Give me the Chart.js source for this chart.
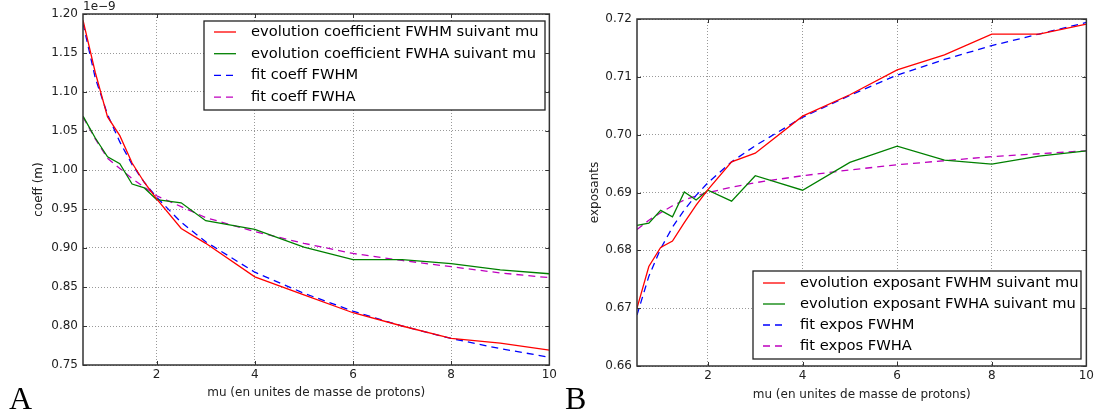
<!DOCTYPE html>
<html>
<head>
<meta charset="utf-8">
<script src="https://cdn.jsdelivr.net/npm/chart.js@4.4.1/dist/chart.umd.min.js"></script>
<style>
body { margin: 0; background: #fff; width: 1097px; height: 418px; overflow: hidden; position: relative; }
.box { position: absolute; top: 0; height: 418px; }
#left-box { left: 0; width: 560px; }
#right-box { left: 560px; width: 537px; }
.panel { position: absolute; top: 382px; font-family: "Liberation Serif"; font-size: 32px; line-height: 1; color: #000; }
</style>
</head>
<body>
<div class="box" id="left-box"><canvas id="left"></canvas></div>
<div class="box" id="right-box"><canvas id="right"></canvas></div>
<div class="panel" style="left:9px">A</div>
<div class="panel" style="left:565px">B</div>
<script>
// mu values (en unites de masse de protons), shared by every curve
const mu = [0.5, 0.75, 1, 1.25, 1.5, 1.75, 2, 2.5, 3, 4, 5, 6, 7, 8, 9, 10];

// panel A, coeff in units of 1e-9 m
const coeffFwhm = [1.192, 1.125, 1.068, 1.044, 1.009, 0.984, 0.963, 0.925, 0.906, 0.863, 0.840, 0.817, 0.800, 0.784, 0.778, 0.769];
const coeffFwha = [1.069, 1.041, 1.017, 1.008, 0.982, 0.977, 0.962, 0.958, 0.935, 0.924, 0.901, 0.885, 0.885, 0.880, 0.872, 0.867];
const fitCoeffFwhm = [1.188, 1.118, 1.071, 1.036, 1.007, 0.984, 0.965, 0.933, 0.908, 0.869, 0.842, 0.819, 0.800, 0.784, 0.771, 0.760];
const fitCoeffFwha = [1.068, 1.040, 1.015, 1.002, 0.989, 0.978, 0.967, 0.953, 0.939, 0.921, 0.906, 0.893, 0.884, 0.876, 0.868, 0.862];

// panel B, exposants
const expFwhm = [0.6700, 0.6772, 0.6805, 0.6816, 0.6848, 0.6878, 0.6905, 0.6953, 0.6968, 0.7032, 0.7069, 0.7112, 0.7138, 0.7174, 0.7174, 0.7191];
const expFwha = [0.6843, 0.6847, 0.6869, 0.6858, 0.6901, 0.6887, 0.6904, 0.6885, 0.6929, 0.6904, 0.6952, 0.6980, 0.6956, 0.6949, 0.6963, 0.6972];
const fitExpFwhm = [0.6688, 0.6755, 0.6803, 0.6840, 0.6870, 0.6895, 0.6917, 0.6953, 0.6981, 0.7030, 0.7068, 0.7103, 0.7130, 0.7154, 0.7174, 0.7194];
const fitExpFwha = [0.6836, 0.6852, 0.6865, 0.6877, 0.6887, 0.6894, 0.6900, 0.6909, 0.6917, 0.6929, 0.6939, 0.6948, 0.6955, 0.6962, 0.6967, 0.6972];

// tick labels
const muTicks = [2, 4, 6, 8, 10];
const coeffTicks = [0.75, 0.80, 0.85, 0.90, 0.95, 1.00, 1.05, 1.10, 1.15, 1.20];
const expTicks = [0.66, 0.67, 0.68, 0.69, 0.70, 0.71, 0.72];

const labelsA = ["evolution coefficient FWHM suivant mu", "evolution coefficient FWHA suivant mu", "fit coeff FWHM", "fit coeff FWHA"];
const labelsB = ["evolution exposant FWHM suivant mu", "evolution exposant FWHA suivant mu", "fit expos FWHM", "fit expos FWHA"];

const FONT = "DejaVu Sans";
const colors = ["#ff0000", "#008000", "#0000ff", "#bf00bf"];

function points(ys) {
	return mu.map((m, i) => ({ x: m, y: ys[i] }));
}

function makeDatasets(labels, series) {
	return series.map((s, i) => ({
		label: labels[i],
		data: points(s),
		borderColor: colors[i],
		borderWidth: 1.3,
		borderDash: i < 2 ? [] : [7, 5],
		pointRadius: 0,
		tension: 0,
		fill: false,
	}));
}

// frame with inward ticks, matplotlib style legend box and offset text
const mplPlugin = {
	id: "mpl",
	afterDraw(chart, args, opts) {
		const { ctx, chartArea: a, scales } = chart;
		const x = scales.x;
		const y = scales.y;
		ctx.save();
		ctx.strokeStyle = "#333";
		ctx.lineWidth = 1;
		x.ticks.forEach((t) => {
			const px = Math.round(x.getPixelForValue(t.value)) + 0.5;
			ctx.beginPath();
			ctx.moveTo(px, a.bottom);
			ctx.lineTo(px, a.bottom - 4);
			ctx.moveTo(px, a.top);
			ctx.lineTo(px, a.top + 4);
			ctx.stroke();
		});
		y.ticks.forEach((t) => {
			const py = Math.round(y.getPixelForValue(t.value)) + 0.5;
			ctx.beginPath();
			ctx.moveTo(a.left, py);
			ctx.lineTo(a.left + 4, py);
			ctx.moveTo(a.right, py);
			ctx.lineTo(a.right - 4, py);
			ctx.stroke();
		});
		ctx.lineWidth = 1.5;
		ctx.strokeRect(a.left, a.top, a.right - a.left, a.bottom - a.top);

		if (opts.offsetText) {
			ctx.fillStyle = "#222";
			ctx.font = "12px '" + FONT + "'";
			ctx.textBaseline = "bottom";
			ctx.textAlign = "left";
			ctx.fillText(opts.offsetText, a.left, a.top - 1);
		}

		const lg = opts.legend;
		ctx.fillStyle = "#fff";
		ctx.fillRect(lg.left, lg.top, lg.width, lg.height);
		ctx.strokeStyle = "#222";
		ctx.lineWidth = 1.3;
		ctx.strokeRect(lg.left, lg.top, lg.width, lg.height);
		ctx.font = "14.7px '" + FONT + "'";
		ctx.textBaseline = "middle";
		chart.data.datasets.forEach((ds, i) => {
			const ry = lg.top + lg.first + i * lg.step;
			ctx.strokeStyle = ds.borderColor;
			ctx.lineWidth = ds.borderWidth;
			ctx.setLineDash(ds.borderDash);
			ctx.beginPath();
			ctx.moveTo(lg.left + 10, ry);
			ctx.lineTo(lg.left + 32, ry);
			ctx.stroke();
			ctx.setLineDash([]);
			ctx.fillStyle = "#000";
			ctx.fillText(ds.label, lg.left + 47, ry);
		});
		ctx.restore();
	},
};

function makeChart(el, cfg) {
	return new Chart(el, {
		type: "line",
		data: { datasets: makeDatasets(cfg.labels, cfg.series) },
		options: {
			responsive: true,
			maintainAspectRatio: false,
			animation: false,
			layout: { padding: { left: 0, top: cfg.top, right: cfg.right, bottom: 0 } },
			plugins: {
				legend: { display: false },
				tooltip: { enabled: false },
				mpl: { legend: cfg.legend, offsetText: cfg.offsetText },
			},
			scales: {
				x: {
					type: "linear",
					min: 0.5,
					max: 10,
					afterBuildTicks: (s) => { s.ticks = muTicks.map((v) => ({ value: v })); },
					afterFit: (s) => { s.height = cfg.xHeight; },
					ticks: { font: { family: FONT, size: 12 }, color: "#222", padding: 3, maxRotation: 0, callback: (v) => String(v) },
					grid: { color: "#999", lineWidth: 1, drawTicks: false },
					border: { display: false, dash: [1, 2] },
					title: { display: true, text: "mu (en unites de masse de protons)", font: { family: FONT, size: 12, lineHeight: 1 }, color: "#222", padding: { top: 0, bottom: cfg.xTitlePad } },
				},
				y: {
					type: "linear",
					min: cfg.ticks[0],
					max: cfg.ticks[cfg.ticks.length - 1],
					afterBuildTicks: (s) => { s.ticks = cfg.ticks.map((v) => ({ value: v })); },
					afterFit: (s) => { s.width = cfg.yWidth; },
					ticks: { font: { family: FONT, size: 12 }, color: "#222", padding: 5, callback: (v) => v.toFixed(2) },
					grid: { color: "#999", lineWidth: 1, drawTicks: false },
					border: { display: false, dash: [1, 2] },
					title: { display: true, text: cfg.yTitle, font: { family: FONT, size: 12, lineHeight: 1 }, color: "#222", padding: { top: cfg.yTitlePad, bottom: 0 } },
				},
			},
		},
		plugins: [mplPlugin],
	});
}

makeChart(document.getElementById("left"), {
	labels: labelsA,
	series: [coeffFwhm, coeffFwha, fitCoeffFwhm, fitCoeffFwha],
	ticks: coeffTicks,
	yTitle: "coeff (m)",
	offsetText: "1e\u22129",
	top: 14,
	right: 8,
	xHeight: 53,
	yWidth: 83,
	xTitlePad: 19,
	yTitlePad: 33,
	legend: { left: 204, top: 21, width: 341, height: 89, first: 11, step: 21.7 },
});

makeChart(document.getElementById("right"), {
	labels: labelsB,
	series: [expFwhm, expFwha, fitExpFwhm, fitExpFwha],
	ticks: expTicks,
	yTitle: "exposants",
	offsetText: "",
	top: 19,
	right: 9,
	xHeight: 52,
	yWidth: 77,
	xTitlePad: 17,
	yTitlePad: 28.5,
	legend: { left: 193, top: 271, width: 328, height: 88, first: 12, step: 21 },
});
</script>
</body>
</html>
